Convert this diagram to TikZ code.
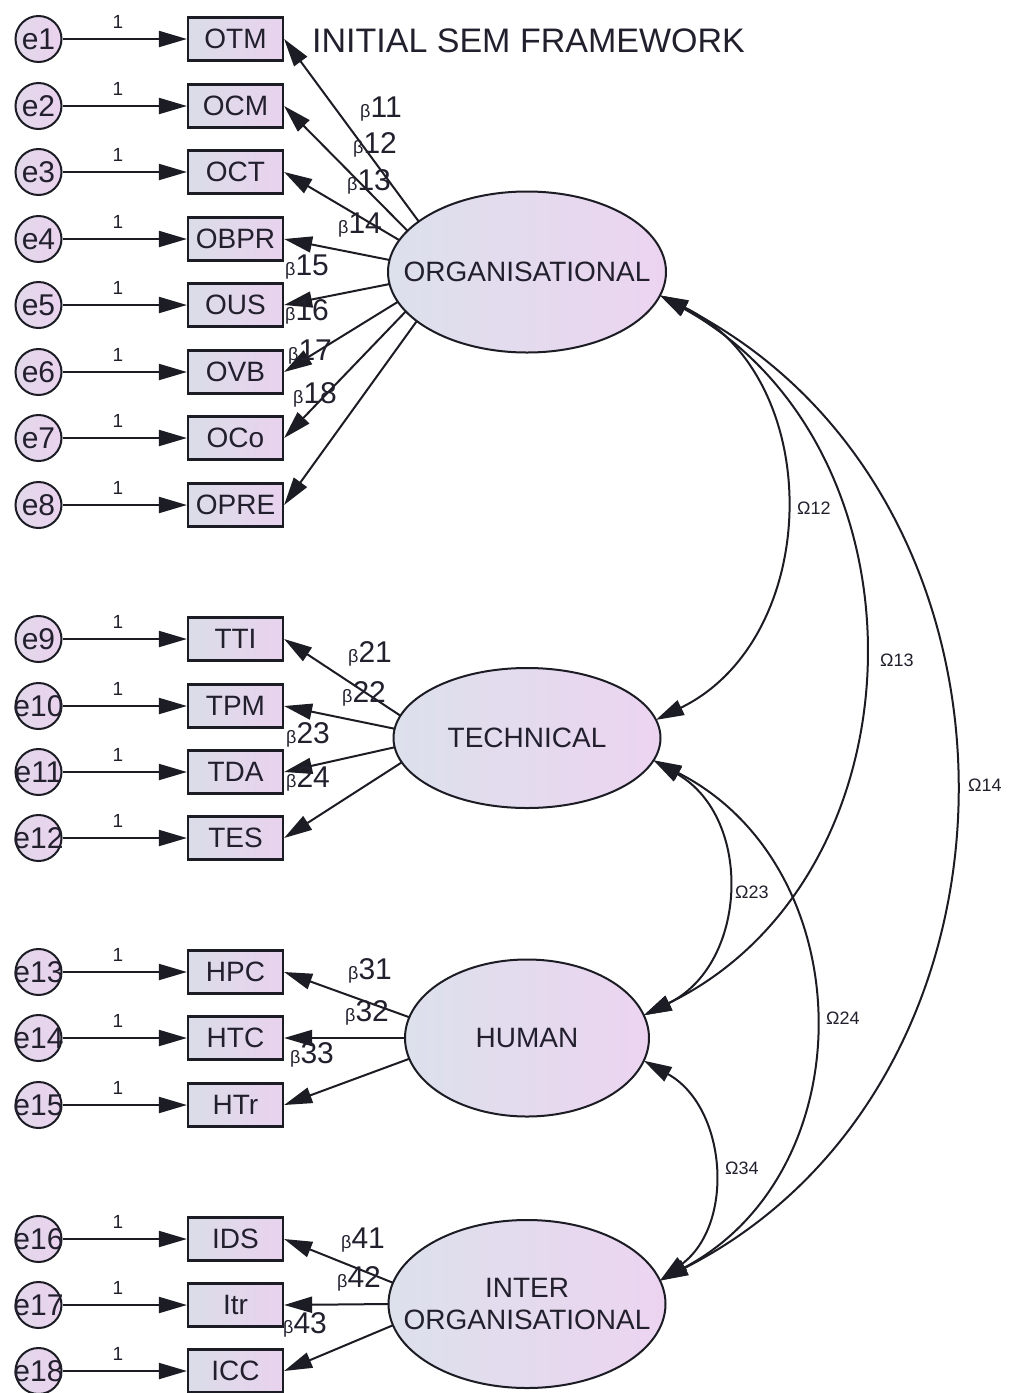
\documentclass[tikz,border=0pt]{standalone}
\usepackage{fontspec}
\setmainfont{Liberation Sans}
\usetikzlibrary{shapes.geometric,arrows.meta}
\definecolor{ink}{HTML}{1C1C24}
\definecolor{txt}{HTML}{23202E}
\definecolor{latl}{HTML}{DCE1EC}
\definecolor{latr}{HTML}{ECD4F0}
\definecolor{bxl}{HTML}{DADDE8}
\definecolor{bxr}{HTML}{E9D2EE}
\definecolor{cirl}{HTML}{E2D8EA}
\definecolor{cirr}{HTML}{EAD2EE}
\newcommand{\fsz}[1]{\fontsize{#1}{#1}\selectfont}
\newcommand{\bet}[1]{{\fsz{18}β}{\fsz{30}#1}}
\begin{document}
\begin{tikzpicture}[x=1pt,y=-1pt,
  >={Triangle[length=28pt,width=16pt]},
  errc/.style={circle, draw=ink, line width=2pt, left color=cirl, right color=cirr, minimum size=46pt, inner sep=0pt},
  efont/.style={font=\fsz{30}, text=txt, inner sep=0pt},
  obs/.style={rectangle, draw=ink, line width=2.2pt, left color=bxl, right color=bxr, minimum width=95pt, minimum height=43pt, inner sep=0pt, font=\fsz{28}, text=txt},
  lat/.style={ellipse, draw=ink, line width=2pt, left color=latl, right color=latr, inner sep=0pt, outer sep=0pt},
  lfont/.style={font=\fsz{28}, text=txt, inner sep=0pt, align=center},
  pathc/.style={->, draw=ink, line width=2pt},
  cov/.style={<->, draw=ink, line width=2pt},
  one/.style={font=\fsz{19}, text=txt, inner sep=0pt},
  blab/.style={anchor=base west, inner sep=0pt, text=txt},
  olab/.style={anchor=west, font=\fsz{18}, inner sep=0pt, text=txt}]
\useasboundingbox (0,0) rectangle (1010,1393);
\fill[white] (0,0) rectangle (1010,1393);

% title
\node[anchor=base west, font=\fsz{34}, text=txt, inner sep=0pt] (title) at (312,52) {INITIAL SEM FRAMEWORK};

% latent variables
\node[lat, minimum width=278pt, minimum height=161pt] (org) at (527,272) {};
\node[lfont] (orgT) at (527,272) {ORGANISATIONAL};
\node[lat, minimum width=267pt, minimum height=140pt] (tech) at (527,738) {};
\node[lfont] (techT) at (527,738) {TECHNICAL};
\node[lat, minimum width=244pt, minimum height=157pt] (hum) at (527,1038) {};
\node[lfont] (humT) at (527,1038) {HUMAN};
\node[lat, minimum width=277pt, minimum height=168pt] (inter) at (527,1304) {};
\node[lfont, font={\fontsize{28}{32}\selectfont}] (interT) at (527,1304) {INTER\\ORGANISATIONAL};

% observed variables with error terms
\foreach \i/\t/\y in {1/OTM/39, 2/OCM/106, 3/OCT/172, 4/OBPR/239, 5/OUS/305, 6/OVB/372, 7/OCo/438, 8/OPRE/505,
                      9/TTI/639, 10/TPM/706, 11/TDA/772, 12/TES/838,
                      13/HPC/972, 14/HTC/1038, 15/HTr/1105,
                      16/IDS/1239, 17/Itr/1305, 18/ICC/1371} {
  \node[errc, label={[efont]center:e\i}] (e\i) at (38.5,\y) {};
  \node[obs] (b\i) at (235.5,\y) {\t};
  \draw[pathc] (e\i.east) -- (b\i.west);
  \node[one] (one\i) at (118,\y-17) {1};
}

% loadings
\foreach \b/\a in {1/155, 2/161, 3/166, 4/175, 5/185, 6/193, 7/198, 8/204}
  \draw[pathc] (org.\a) -- (b\b.east);
\foreach \b/\a in {9/170, 10/176, 11/184, 12/191}
  \draw[pathc] (tech.\a) -- (b\b.east);
\foreach \b/\a in {13/170, 14/180, 15/190}
  \draw[pathc] (hum.\a) -- (b\b.east);
\foreach \b/\a in {16/171, 17/180, 18/189}
  \draw[pathc] (inter.\a) -- (b\b.east);

% beta labels
\node[blab] (be11) at (360,117) {\bet{11}};
\node[blab] (be12) at (353,153) {\bet{12}};
\node[blab] (be13) at (347,190) {\bet{13}};
\node[blab] (be14) at (338,233) {\bet{14}};
\node[blab] (be15) at (285,275) {\bet{15}};
\node[blab] (be16) at (285,320) {\bet{16}};
\node[blab] (be17) at (288,360) {\bet{17}};
\node[blab] (be18) at (293,403) {\bet{18}};
\node[blab] (be21) at (348,662) {\bet{21}};
\node[blab] (be22) at (342,702) {\bet{22}};
\node[blab] (be23) at (286,743) {\bet{23}};
\node[blab] (be24) at (286,787) {\bet{24}};
\node[blab] (be31) at (348,979) {\bet{31}};
\node[blab] (be32) at (345,1021) {\bet{32}};
\node[blab] (be33) at (290,1063) {\bet{33}};
\node[blab] (be41) at (341,1248) {\bet{41}};
\node[blab] (be42) at (337,1287) {\bet{42}};
\node[blab] (be43) at (283,1333) {\bet{43}};

% covariances
\draw[cov] (org.-10) to[out=-26, in=26, looseness=1.12] (tech.8);
\draw[cov] (org.-10) to[out=-29, in=26, looseness=1.12] (hum.11);
\draw[cov] (org.-10) to[out=-27, in=27, looseness=1.14] (inter.10);
\draw[cov] (tech.-10) to[out=-30, in=26, looseness=1.16] (hum.11);
\draw[cov] (tech.-10) to[out=-27, in=28, looseness=1.15] (inter.10);
\draw[cov] (hum.-11) to[out=-29, in=37, looseness=1.10] (inter.10);

\node[olab] (om12) at (797,508) {Ω12};
\node[olab] (om13) at (880,660) {Ω13};
\node[olab] (om14) at (968,785) {Ω14};
\node[olab] (om23) at (735,892) {Ω23};
\node[olab] (om24) at (826,1018) {Ω24};
\node[olab] (om34) at (725,1168) {Ω34};
\end{tikzpicture}
\end{document}
